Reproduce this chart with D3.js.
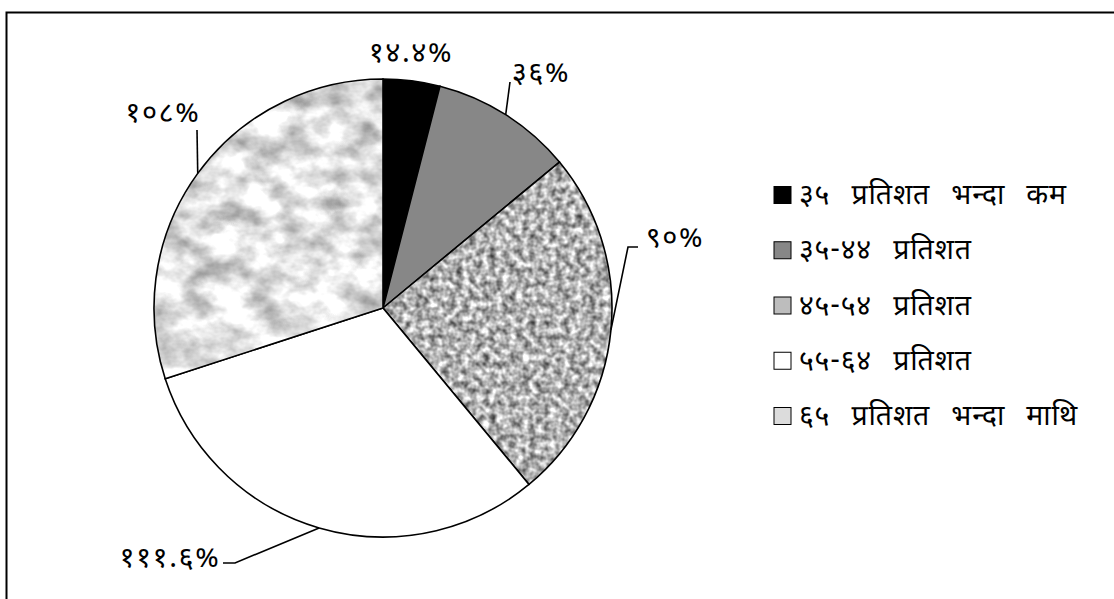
<!DOCTYPE html>
<html><head><meta charset="utf-8">
<script src="https://cdn.jsdelivr.net/npm/d3@7"></script>
<style>
html,body{margin:0;padding:0;background:#fff;}
text{font-family:"Noto Sans Devanagari","Noto Sans","Lohit Devanagari",sans-serif;}
</style></head>
<body>
<svg id="chart" width="1114" height="599"></svg>
<script>
const categories = ["३५ प्रतिशत भन्दा कम", "३५-४४ प्रतिशत", "४५-५४ प्रतिशत", "५५-६४ प्रतिशत", "६५ प्रतिशत भन्दा माथि"];
const values = [14.4, 36, 90, 111.6, 108];
const valueLabels = ["१४.४%", "३६%", "९०%", "१११.६%", "१०८%"];

const W = 1114, H = 599;
const cx = 383, cy = 308, R = 229;
const svg = d3.select("#chart");
const defs = svg.append("defs");

// textures
const speck = defs.append("filter").attr("id","speck").attr("x",0).attr("y",0).attr("width",1).attr("height",1)
  .attr("color-interpolation-filters","sRGB");
speck.append("feTurbulence").attr("type","fractalNoise").attr("baseFrequency","0.15").attr("numOctaves",2).attr("seed",3);
speck.append("feColorMatrix").attr("type","matrix")
  .attr("values","1.15 0 0 0 0.12  1.15 0 0 0 0.12  1.15 0 0 0 0.12  0 0 0 0 1");

const marble = defs.append("filter").attr("id","marble").attr("x",0).attr("y",0).attr("width",1).attr("height",1)
  .attr("color-interpolation-filters","sRGB");
marble.append("feTurbulence").attr("type","fractalNoise").attr("baseFrequency","0.03 0.04").attr("numOctaves",4).attr("seed",7);
marble.append("feColorMatrix").attr("type","matrix")
  .attr("values","0.85 0 0 0 0.46  0.85 0 0 0 0.46  0.85 0 0 0 0.46  0 0 0 0 1");

const fills = ["#000000", "#878787", "url(#speck)", "#ffffff", "url(#marble)"];

// frame
svg.append("rect").attr("x",6.5).attr("y",12.5).attr("width",1120).attr("height",640)
  .attr("fill","none").attr("stroke","#000").attr("stroke-width",2);

const pie = d3.pie().sort(null).value(d=>d)(values);
const arc = d3.arc().innerRadius(0).outerRadius(R);
const edge = d3.arc().innerRadius(R).outerRadius(R);

const g = svg.append("g").attr("transform",`translate(${cx},${cy})`);

pie.forEach((p,i)=>{
  const f = fills[i];
  if (f.startsWith("url")) {
    const id = "clip"+i;
    defs.append("clipPath").attr("id",id).append("path").attr("d",arc(p));
    g.append("rect").attr("x",-R).attr("y",-R).attr("width",2*R).attr("height",2*R)
      .attr("clip-path",`url(#${id})`).attr("filter",f);
    g.append("path").attr("d",arc(p)).attr("fill","none").attr("stroke","#000").attr("stroke-width",1.6);
  } else {
    g.append("path").attr("d",arc(p)).attr("fill",f).attr("stroke","#000").attr("stroke-width",1.6);
  }
});

// labels & leader lines (layout offsets relative to the chart)
const labelPos = [
  {x:411, y:62, leader:null},
  {x:541, y:82, leader:[[510,82]]},
  {x:675, y:247, leader:[[628,247],[638,247]]},
  {x:170, y:567, leader:[[235,563],[223,563]]},
  {x:163, y:122, leader:[[197,130]]}
];
pie.forEach((p,i)=>{
  const L = labelPos[i];
  if (L.leader) {
    const c = edge.centroid(p);
    const pts = [[cx+c[0], cy+c[1]]].concat(L.leader);
    svg.append("path").attr("d", d3.line()(pts)).attr("fill","none").attr("stroke","#000").attr("stroke-width",1.6);
  }
  svg.append("text").attr("x",L.x).attr("y",L.y).attr("text-anchor","middle")
    .attr("font-size",29).attr("letter-spacing",1.5).attr("fill","#000").text(valueLabels[i]);
});

// legend
const legendSwatch = ["#000000", "#878787", "#bdbdbd", "#ffffff", "#dcdcdc"];
const ly = d3.scalePoint().domain(categories).range([195, 416]);
const lg = svg.append("g");
categories.forEach((c,i)=>{
  const y = ly(c);
  lg.append("rect").attr("x",774).attr("y",y-8.5).attr("width",17).attr("height",17)
    .attr("fill", legendSwatch[i]).attr("stroke","#000").attr("stroke-width",1);
  lg.append("text").attr("x",799).attr("y",y+9).attr("font-size",28.5).attr("word-spacing",13)
    .attr("letter-spacing",0.8).attr("fill","#000").text(c);
});
</script>
</body></html>
